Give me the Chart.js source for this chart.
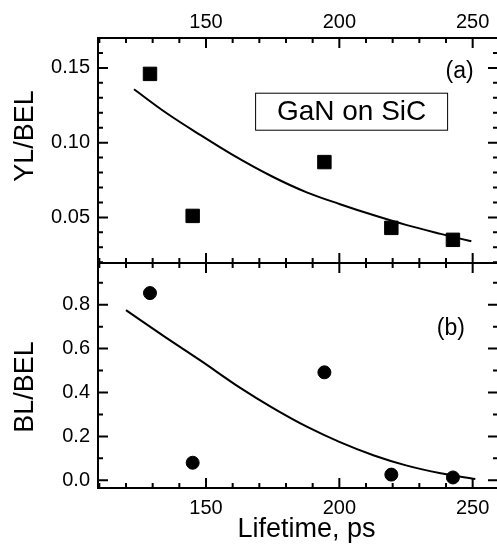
<!DOCTYPE html>
<html>
<head>
<meta charset="utf-8">
<script src="https://cdn.jsdelivr.net/npm/chart.js@4.4.1/dist/chart.umd.min.js"></script>
<style>
  html, body { margin: 0; padding: 0; background: #fff; }
  #wrap { position: relative; width: 497px; height: 549px; overflow: hidden; background: #fff; }
  .panel { position: absolute; left: 0; }
  #top-panel { top: 0; }
  #bottom-panel { top: 256px; }
</style>
</head>
<body>
<div id="wrap">
  <canvas id="top-panel" class="panel" width="500" height="270"></canvas>
  <canvas id="bottom-panel" class="panel" width="500" height="293"></canvas>
</div>
<script>
// measured points (lifetime in ps)
const lifetime = [129, 145, 194.4, 219.5, 242.6];
const ylBel = [0.146, 0.051, 0.087, 0.043, 0.035];
const blBel = [0.853, 0.080, 0.492, 0.026, 0.013];

// fitted curves
const ylFitX = [123, 135, 148, 160, 175, 188, 200, 213, 225, 238, 249.5];
const ylFitY = [0.1357, 0.1200, 0.1050, 0.0918, 0.0772, 0.0666, 0.0590, 0.0514, 0.0450, 0.0390, 0.0340];
const blFitX = [120, 135, 148, 163, 175, 188, 200, 213, 225, 238, 251];
const blFitY = [0.775, 0.650, 0.545, 0.420, 0.330, 0.243, 0.175, 0.113, 0.068, 0.032, 0.006];

// axis ticks
const xMajor = [150, 200, 250];
const xMinor = [110, 120, 130, 140, 160, 170, 180, 190, 210, 220, 230, 240];
const ylMajor = [0.05, 0.10, 0.15];
const ylMinor = [0.02, 0.03, 0.04, 0.06, 0.07, 0.08, 0.09, 0.11, 0.12, 0.13, 0.14, 0.16];
const blMajor = [0.0, 0.2, 0.4, 0.6, 0.8];
const blMinor = [0.1, 0.3, 0.5, 0.7, 0.9];

const fontFamily = '"Liberation Sans", Arial, Helvetica, sans-serif';
Chart.defaults.font.family = fontFamily;
Chart.defaults.color = '#000';

function pairs(xs, ys) {
    return xs.map((x, i) => ({ x: x, y: ys[i] }));
}

// frame with inward ticks on all four sides, plus the panel texts
function decoPlugin(cfg) {
    return {
        id: 'deco',
        afterDraw(chart) {
            const ctx = chart.ctx;
            const a = chart.chartArea;
            const sx = chart.scales.x, sy = chart.scales.y;
            ctx.save();
            ctx.strokeStyle = '#000';
            ctx.lineWidth = 2;
            ctx.beginPath();
            ctx.rect(a.left, a.top, a.right - a.left, a.bottom - a.top);
            const xTicks = (vals, len) => vals.forEach(v => {
                const p = sx.getPixelForValue(v);
                ctx.moveTo(p, a.top); ctx.lineTo(p, a.top + len);
                ctx.moveTo(p, a.bottom); ctx.lineTo(p, a.bottom - len);
            });
            const yTicks = (vals, len) => vals.forEach(v => {
                const p = sy.getPixelForValue(v);
                ctx.moveTo(a.left, p); ctx.lineTo(a.left + len, p);
                ctx.moveTo(a.right, p); ctx.lineTo(a.right - len, p);
            });
            xTicks(xMajor, 10);
            xTicks(xMinor, 5);
            yTicks(cfg.yMajor, 10);
            yTicks(cfg.yMinor, 5);
            ctx.stroke();

            ctx.fillStyle = '#000';
            ctx.textAlign = 'center';
            ctx.textBaseline = 'middle';

            // y title
            ctx.font = '27px ' + fontFamily;
            ctx.save();
            ctx.translate(26, (a.top + a.bottom) / 2 + cfg.titleShift);
            ctx.rotate(-Math.PI / 2);
            ctx.fillText(cfg.yTitle, 0, 0);
            ctx.restore();

            // x title
            if (cfg.xTitle) {
                ctx.font = '27px ' + fontFamily;
                ctx.fillText(cfg.xTitle, (a.left + a.right) / 2 + 8.5, a.bottom + 42);
            }

            // panel tag
            ctx.font = '23px ' + fontFamily;
            ctx.fillText(cfg.tag, sx.getPixelForValue(cfg.tagAt[0]), sy.getPixelForValue(cfg.tagAt[1]));

            // sample box
            if (cfg.box) {
                const bx = sx.getPixelForValue(cfg.box.at[0]);
                const by = sy.getPixelForValue(cfg.box.at[1]);
                ctx.lineWidth = 1;
                ctx.strokeRect(bx - 96, by - 18.5, 192, 37);
                ctx.font = '28px ' + fontFamily;
                ctx.fillText(cfg.box.text, bx, by + 1);
            }
            ctx.restore();
        }
    };
}

function noPad(s) {
    s.paddingTop = 0;
    s.paddingBottom = 0;
    s.paddingLeft = 0;
    s.paddingRight = 0;
}

function makeChart(canvas, opts) {
    const isTop = opts.xPos === 'top';
    return new Chart(canvas.getContext('2d'), {
        type: 'scatter',
        data: {
            datasets: [{
                label: opts.label,
                data: pairs(lifetime, opts.values),
                pointStyle: opts.marker,
                pointRadius: opts.radius,
                backgroundColor: '#000',
                borderColor: '#000',
                borderWidth: 1,
                showLine: false
            }, {
                label: 'fit',
                data: pairs(opts.fitX, opts.fitY),
                showLine: true,
                pointRadius: 0,
                borderColor: '#000',
                borderWidth: 2,
                cubicInterpolationMode: 'monotone'
            }]
        },
        options: {
            responsive: false,
            animation: false,
            events: [],
            layout: {
                autoPadding: false,
                padding: isTop ? { left: 0, right: 2, top: 0, bottom: 7 } : { left: 0, right: 2, top: 7, bottom: 0 }
            },
            plugins: {
                legend: { display: false },
                tooltip: { enabled: false }
            },
            scales: {
                x: {
                    type: 'linear',
                    position: opts.xPos,
                    min: 109.5,
                    max: 259.5,
                    grid: { display: false, drawTicks: false },
                    border: { display: false },
                    ticks: { padding: isTop ? 4 : 8, font: { size: 20 } },
                    afterBuildTicks: s => { s.ticks = xMajor.map(v => ({ value: v })); },
                    afterFit: s => { s.height = isTop ? 38 : 61; noPad(s); }
                },
                y: {
                    type: 'linear',
                    position: 'left',
                    min: opts.yMin,
                    max: opts.yMax,
                    grid: { display: false, drawTicks: false },
                    border: { display: false },
                    ticks: {
                        padding: 8,
                        font: { size: 20 },
                        callback: v => v.toFixed(opts.digits)
                    },
                    afterBuildTicks: s => { s.ticks = opts.yMajor.map(v => ({ value: v })); },
                    afterFit: s => { s.width = 98; noPad(s); }
                }
            }
        },
        plugins: [decoPlugin(opts.deco)]
    });
}

makeChart(document.getElementById('top-panel'), {
    xPos: 'top',
    label: 'YL/BEL',
    values: ylBel,
    marker: 'rect',
    radius: 9.5,
    fitX: ylFitX,
    fitY: ylFitY,
    yMin: 0.0195,
    yMax: 0.170,
    yMajor: ylMajor,
    digits: 2,
    deco: {
        yMajor: ylMajor, yMinor: ylMinor,
        yTitle: 'YL/BEL', titleShift: -14.5,
        tag: '(a)', tagAt: [245.1, 0.1475],
        box: { text: 'GaN on SiC', at: [204.6, 0.1207] }
    }
});

makeChart(document.getElementById('bottom-panel'), {
    xPos: 'bottom',
    label: 'BL/BEL',
    values: blBel,
    marker: 'circle',
    radius: 6.5,
    fitX: blFitX,
    fitY: blFitY,
    yMin: -0.035,
    yMax: 0.99,
    yMajor: blMajor,
    digits: 1,
    deco: {
        yMajor: blMajor, yMinor: blMinor,
        yTitle: 'BL/BEL', titleShift: 11.5,
        xTitle: 'Lifetime, ps',
        tag: '(b)', tagAt: [241.8, 0.692]
    }
});
</script>
</body>
</html>
